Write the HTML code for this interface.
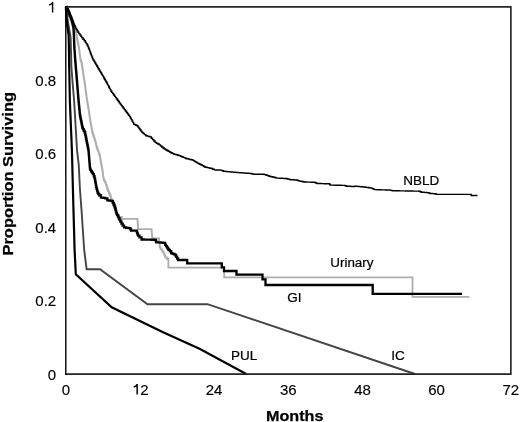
<!DOCTYPE html>
<html><head><meta charset="utf-8"><style>
html,body{margin:0;padding:0;background:#fff;width:520px;height:422px;overflow:hidden}
svg{position:absolute;left:0;top:0;display:block;will-change:transform}
text{font-family:"Liberation Sans",sans-serif;fill:#000}
</style></head><body>
<svg width="520" height="422" viewBox="0 0 520 422">
<rect x="0" y="0" width="520" height="422" fill="#fff"/>
<g fill="none" stroke-linejoin="miter" stroke-linecap="butt">
<path d="M65.80,6.80H66.15V8.67H66.85V10.53H67.55V12.40H68.25V14.27H68.95V16.13H69.65V18.00H70.00H70.47V20.17H71.42V22.33H72.38V24.50H73.33V26.67H74.28V28.83H75.23V31.00H75.70H75.86V32.65H76.19V34.30H76.51V35.95H76.84V37.60H77.00H77.20V39.68H77.60V41.76H78.00V43.84H78.40V45.92H78.80V48.00H79.00H79.13V50.10H79.39V52.20H79.65V54.30H79.91V56.40H80.17V58.50H80.30H80.60V60.25H81.20V62.00H81.50H81.65V64.00H81.95V66.00H82.25V68.00H82.55V70.00H82.85V72.00H83.00H83.17V74.17H83.50V76.33H83.83V78.50H84.17V80.67H84.50V82.83H84.83V85.00H85.00H85.14V87.14H85.43V89.29H85.71V91.43H86.00V93.57H86.29V95.71H86.57V97.86H86.86V100.00H87.00H87.17V102.00H87.53V104.00H87.88V106.00H88.22V108.00H88.58V110.00H88.75H88.90V112.00H89.19V114.00H89.48V116.00H89.77V118.00H90.06V120.00H90.35V122.00H90.50H90.70V124.10H91.10V126.20H91.50V128.30H91.90V130.40H92.30V132.50H92.50H92.81V134.38H93.44V136.25H94.06V138.12H94.69V140.00H95.00H95.25V141.88H95.75V143.75H96.25V145.62H96.75V147.50H97.00H97.36V149.55H98.09V151.60H98.81V153.65H99.54V155.70H99.90H100.08V157.82H100.42V159.95H100.78V162.07H101.12V164.20H101.30H101.47V165.97H101.83V167.75H102.17V169.53H102.53V171.30H102.70H102.79V173.08H102.96V174.85H103.14V176.62H103.31V178.40H103.40H103.95V180.55H105.05V182.70H105.60H105.95V184.80H106.65V186.90H107.00H107.35V189.05H108.05V191.20H108.40H108.93V193.35H109.97V195.50H110.50H110.75V197.37H111.25V199.23H111.75V201.10H112.00H112.30V202.88H112.90V204.66H113.50V206.44H114.10V208.22H114.70V210.00H115.00H115.42V211.63H116.25V213.27H117.08V214.90H117.50H118.95V216.85H121.85V218.80H123.30L137.40,218.80H137.48V220.88H137.64V222.96H137.80V225.04H137.96V227.12H138.12V229.20H138.20L151.50,229.20H151.58V231.06H151.74V232.92H151.90V234.78H152.06V236.64H152.22V238.50H152.30L159.00,238.50H159.08V240.26H159.24V242.02H159.40V243.78H159.56V245.54H159.72V247.30H159.80H160.62V249.40H162.28V251.50H163.10H163.52V253.43H164.35V255.37H165.18V257.30H165.60H166.85V259.00H168.10H168.25V259.20H168.40L168.40,267.70L224.20,267.70L224.20,277.30L412.50,277.30L412.50,296.90L469.50,296.90" stroke="#adadad" stroke-width="1.8"/>
<polyline points="65.80,6.80 66.60,12.00 67.60,20.00 69.00,28.00 70.60,37.00 71.00,50.00 71.40,67.00 72.80,85.00 74.20,102.00 77.00,150.00 78.75,165.00 80.00,190.00 81.50,210.00 84.20,250.00 86.60,269.20 100.00,269.20 147.50,304.20 207.50,304.20 415.00,374.00" stroke="#444" stroke-width="1.9"/>
<polyline points="65.80,6.80 66.30,15.00 67.20,25.00 68.60,35.00 69.00,50.00 69.20,67.00 69.90,102.00 71.90,150.00 73.20,200.00 74.60,250.00 75.80,274.25 111.70,307.30 163.10,332.30 200.00,349.00 246.20,374.00" stroke="#000" stroke-width="2.2"/>
<path d="M65.80,6.80H66.65V9.00H67.50H67.83V10.67H68.50V12.33H69.17V14.00H69.50H69.83V15.67H70.50V17.33H71.17V19.00H71.50H71.71V20.70H72.14V22.40H72.56V24.10H72.99V25.80H73.20H73.30V27.55H73.50V29.30H73.60H73.65V31.45H73.75V33.60H73.85V35.75H73.95V37.90H74.00H74.04V39.92H74.12V41.94H74.20V43.96H74.28V45.98H74.36V48.00H74.40H74.47V50.10H74.61V52.20H74.75V54.30H74.89V56.40H75.03V58.50H75.10H75.19V60.56H75.36V62.62H75.54V64.69H75.71V66.75H75.89V68.81H76.06V70.88H76.24V72.94H76.41V75.00H76.50H76.58V77.08H76.75V79.17H76.92V81.25H77.08V83.33H77.25V85.42H77.42V87.50H77.58V89.58H77.75V91.67H77.92V93.75H78.08V95.83H78.25V97.92H78.42V100.00H78.50H78.61V102.14H78.82V104.29H79.04V106.43H79.25V108.57H79.46V110.71H79.68V112.86H79.89V115.00H80.00H80.21V117.08H80.62V119.17H81.04V121.25H81.46V123.33H81.88V125.42H82.29V127.50H82.50H82.92V129.17H83.75V130.83H84.58V132.50H85.00H85.21V134.58H85.62V136.67H86.04V138.75H86.46V140.83H86.88V142.92H87.29V145.00H87.50H87.67V146.67H88.00V148.33H88.33V150.00H88.50H88.59V152.12H88.76V154.25H88.94V156.38H89.11V158.50H89.20H89.28V160.50H89.44V162.50H89.60V164.50H89.76V166.50H89.92V168.50H90.00H90.35V169.90H91.05V171.30H91.40H91.93V172.70H92.97V174.10H93.50H93.85V176.25H94.55V178.40H94.90H95.08V180.53H95.42V182.65H95.78V184.78H96.12V186.90H96.30H96.55V188.80H97.05V190.70H97.55V192.60H97.80H98.33V194.05H99.38V195.50H99.90H100.95V197.60H102.00H103.08V197.95H105.22V198.30H106.30H107.35V200.40H108.40H109.43V200.70H111.47V201.00H112.50H112.92V202.87H113.75V204.73H114.58V206.60H115.00H115.20V208.28H115.60V209.95H116.00V211.62H116.40V213.30H116.60H117.02V214.95H117.88V216.60H118.30H118.72V218.27H119.55V219.93H120.38V221.60H120.80H121.42V223.65H122.67V225.70H123.30H124.10V227.40H124.90H126.15V227.80H128.65V228.20H129.90H130.32V229.45H131.18V230.70H131.60L136.60,230.70H136.80V231.95H137.20V233.20H137.40H137.60V234.45H138.00V235.70H138.20H139.45V237.30H140.70H141.55V239.50H142.40H143.72V239.56H146.36V239.62H149.00V239.68H151.64V239.74H154.28V239.80H155.60H155.82V241.05H156.28V242.30H156.50H157.88V242.47H160.65V242.63H163.42V242.80H164.80H165.20V244.80H165.60H166.03V246.05H166.88V247.30H167.30H167.70V248.55H168.50V249.80H168.90H169.85V251.20H170.80H171.15V253.10H171.50H172.47V253.85H174.43V254.60H175.40H175.68V255.75H176.22V256.90H176.50H177.10V258.50H177.70H178.10V260.00H178.50L187.20,260.00L187.20,263.40L221.80,263.40L221.80,267.30L224.00,267.30L224.00,271.00L236.50,271.00L236.50,274.60L262.50,274.60L262.50,279.30L265.50,279.30L265.50,285.00L372.70,285.00L372.70,293.90L462.00,293.90" stroke="#000" stroke-width="2.3"/>
<path d="M65.80,6.80H66.35V7.90H67.45V9.00H68.00H68.25V10.10H68.75V11.20H69.25V12.30H69.50H69.68V13.47H70.05V14.63H70.42V15.80H70.60H70.95V17.25H71.65V18.70H72.00H72.23V19.87H72.70V21.03H73.17V22.20H73.40H73.63V23.40H74.10V24.60H74.57V25.80H74.80H75.15V27.20H75.85V28.60H76.20H76.55V29.80H77.25V31.00H77.95V32.20H78.30H78.83V33.60H79.88V35.00H80.40H80.88V36.40H81.83V37.80H82.30H82.95V39.30H84.25V40.80H84.90H85.33V42.20H86.20V43.60H87.07V45.00H87.50H87.83V46.50H88.47V48.00H88.80H89.04V49.30H89.51V50.60H89.99V51.90H90.46V53.20H90.70H90.95V54.53H91.45V55.85H91.95V57.17H92.45V58.50H92.70H93.15V60.00H94.05V61.50H94.50H94.94V63.00H95.81V64.50H96.69V66.00H97.56V67.50H98.00H98.39V68.82H99.17V70.13H99.96V71.45H100.74V72.77H101.53V74.08H102.31V75.40H102.70H103.06V76.67H103.78V77.93H104.49V79.20H105.21V80.47H105.92V81.73H106.64V83.00H107.00H107.35V84.33H108.05V85.67H108.75V87.00H109.45V88.33H110.15V89.67H110.85V91.00H111.20H111.68V92.33H112.65V93.67H113.62V95.00H114.58V96.33H115.55V97.67H116.52V99.00H117.00H117.47V100.28H118.40V101.57H119.33V102.85H120.27V104.13H121.20V105.42H122.13V106.70H122.60H123.15V108.15H124.25V109.60H125.35V111.05H126.45V112.50H127.00H127.50V113.87H128.50V115.23H129.50V116.60H130.00H130.41V118.10H131.23V119.60H132.05V121.10H132.87V122.60H133.69V124.10H134.10H134.67V124.67H135.80V125.23H136.93V125.80H137.50H137.99V127.12H138.97V128.44H139.95V129.76H140.93V131.08H141.91V132.40H142.40H143.10V133.50H144.50V134.60H145.90V135.70H146.60H147.28V136.10H148.65V136.50H150.02V136.90H150.70H151.32V138.28H152.57V139.65H153.82V141.03H155.07V142.40H155.70H156.40V143.23H157.80V144.07H159.20V144.90H159.90H160.53V145.93H161.78V146.95H163.03V147.97H164.28V149.00H164.90H165.56V149.76H166.88V150.52H168.20V151.28H169.52V152.04H170.84V152.80H171.50H172.12V153.40H173.38V154.00H174.00H174.72V154.40H176.18V154.80H177.62V155.20H179.08V155.60H179.80H180.46V156.18H181.78V156.76H183.10V157.34H184.42V157.92H185.74V158.50H186.40H187.07V158.82H188.41V159.14H189.75V159.46H191.09V159.78H192.43V160.10H193.10H193.71V160.85H194.94V161.60H196.16V162.35H197.39V163.10H198.00H198.62V163.72H199.88V164.35H201.12V164.97H202.38V165.60H203.00H203.50V166.30H204.50V167.00H205.00H205.70V167.30H207.10V167.60H208.50V167.90H209.90V168.20H211.30V168.50H212.00H212.75V169.20H214.25V169.90H215.00H215.75V169.95H217.25V170.00H218.75V170.05H220.25V170.10H221.00H221.75V170.65H223.25V171.20H224.00H224.64V171.34H225.92V171.48H227.20V171.62H228.48V171.76H229.76V171.90H230.40H231.11V172.01H232.54V172.13H233.97V172.24H235.40V172.36H236.83V172.47H238.26V172.59H239.69V172.70H240.40H241.06V172.80H242.39V172.90H243.71V173.00H245.04V173.10H246.36V173.20H247.69V173.30H249.01V173.40H250.34V173.50H251.00H251.75V173.85H253.25V174.20H254.00L263.50,174.20H264.25V174.60H265.75V175.00H266.50H267.02V175.40H268.05V175.80H269.08V176.20H269.60H270.18V176.47H271.32V176.75H272.48V177.03H273.62V177.30H274.20H274.72V177.57H275.75V177.83H276.78V178.10H277.30H278.04V178.17H279.52V178.23H281.01V178.30H282.49V178.37H283.98V178.43H285.46V178.50H286.20H286.77V178.80H287.93V179.10H289.07V179.40H290.23V179.70H290.80H291.41V179.76H292.63V179.82H293.85V179.88H295.07V179.94H296.29V180.00H296.90H297.42V180.37H298.45V180.73H299.48V181.10H300.00H300.57V181.32H301.73V181.55H302.88V181.78H304.03V182.00H304.60H305.31V182.04H306.74V182.09H308.17V182.13H309.60V182.17H311.03V182.21H312.46V182.26H313.89V182.30H314.60H315.12V182.70H316.15V183.10H317.18V183.50H317.70H318.42V183.54H319.86V183.57H321.29V183.61H322.73V183.65H324.17V183.69H325.61V183.73H327.04V183.76H328.48V183.80H329.20H329.60V184.45H330.40V185.10H330.80H331.49V185.13H332.87V185.16H334.25V185.19H335.63V185.22H337.01V185.25H338.39V185.28H339.77V185.31H341.15V185.34H342.53V185.37H343.91V185.40H344.60H345.18V185.80H346.32V186.20H346.90H347.59V186.26H348.97V186.32H350.35V186.38H351.73V186.44H353.11V186.50H353.80H354.40V186.10H355.00H355.66V186.23H356.97V186.36H358.29V186.49H359.60V186.61H360.91V186.74H362.23V186.87H363.54V187.00H364.20H364.84V187.18H366.12V187.37H367.41V187.55H368.69V187.73H369.97V187.92H371.26V188.10H371.90H372.42V188.60H373.45V189.10H374.48V189.60H375.00H375.70V189.65H377.10V189.69H378.50V189.74H379.90V189.78H381.30V189.83H382.70V189.87H384.10V189.92H385.50V189.96H386.90V190.01H388.30V190.05H389.70V190.10H390.40H390.97V190.40H392.12V190.70H392.70H393.45V190.73H394.94V190.76H396.44V190.78H397.93V190.81H399.43V190.84H400.92V190.87H402.41V190.89H403.91V190.92H405.40V190.95H406.90V190.98H408.39V191.01H409.89V191.03H411.38V191.06H412.88V191.09H414.37V191.12H415.86V191.14H417.36V191.17H418.85V191.20H419.60H420.18V191.70H421.32V192.20H421.90H422.59V192.30H423.97V192.40H425.35V192.50H426.73V192.60H428.11V192.70H428.80H429.20V193.10H430.00V193.50H430.40H431.10V193.57H432.50V193.65H433.90V193.73H435.30V193.80H436.00H436.15V194.40H436.30L471.00,194.40H471.15V195.50H471.30L477.50,195.50" stroke="#000" stroke-width="1.4"/>
<path d="M65.1,6.85H510" stroke="#262626" stroke-width="1.7"/>
<path d="M65.1,374.1H510" stroke="#222" stroke-width="1.7"/>
<path d="M510.85,6V375" stroke="#2a2a2a" stroke-width="1.7"/>
<path d="M65.8,6V375" stroke="#000" stroke-width="1.4"/>
</g>
<g font-size="15" stroke="#000" stroke-width="0.15"><text x="56.2" y="85.76" text-anchor="end">0.8</text><text x="56.2" y="159.32" text-anchor="end">0.6</text><text x="56.2" y="232.88" text-anchor="end">0.4</text><text x="56.2" y="306.44" text-anchor="end">0.2</text><text x="56.2" y="380.00" text-anchor="end">0</text></g>
<g font-size="15" stroke="#000" stroke-width="0.15"><text x="65.80" y="394.8" text-anchor="middle">0</text><text x="214.13" y="394.8" text-anchor="middle">24</text><text x="288.30" y="394.8" text-anchor="middle">36</text><text x="362.47" y="394.8" text-anchor="middle">48</text><text x="436.63" y="394.8" text-anchor="middle">60</text><text x="510.80" y="394.8" text-anchor="middle">72</text><text x="140.3" y="394.8">2</text></g>
<path d="M52.6,12.45V2.0M52.7,2.3Q51.6,4.2 49.2,4.95" stroke="#000" stroke-width="1.45" fill="none"/><path d="M137.15,394.45V384.0M137.25,384.3Q136.2,386.3 133.7,387.1" stroke="#000" stroke-width="1.45" fill="none"/>
<g font-size="13.5" stroke="#000" stroke-width="0.22">
<text x="403.3" y="185.2">NBLD</text>
<text x="330.3" y="266.9" textLength="43.2" lengthAdjust="spacingAndGlyphs">Urinary</text>
<text x="287.3" y="302.1">GI</text>
<text x="231" y="359.6">PUL</text>
<text x="391.2" y="359.6">IC</text>
</g>
<text x="266" y="420.6" font-size="15" font-weight="bold" stroke="#000" stroke-width="0.25" textLength="57.5" lengthAdjust="spacingAndGlyphs">Months</text>
<text transform="translate(13.2,255.5) rotate(-90)" font-size="15" font-weight="bold" stroke="#000" stroke-width="0.25" textLength="163.5" lengthAdjust="spacingAndGlyphs">Proportion Surviving</text>
</svg>
</body></html>
